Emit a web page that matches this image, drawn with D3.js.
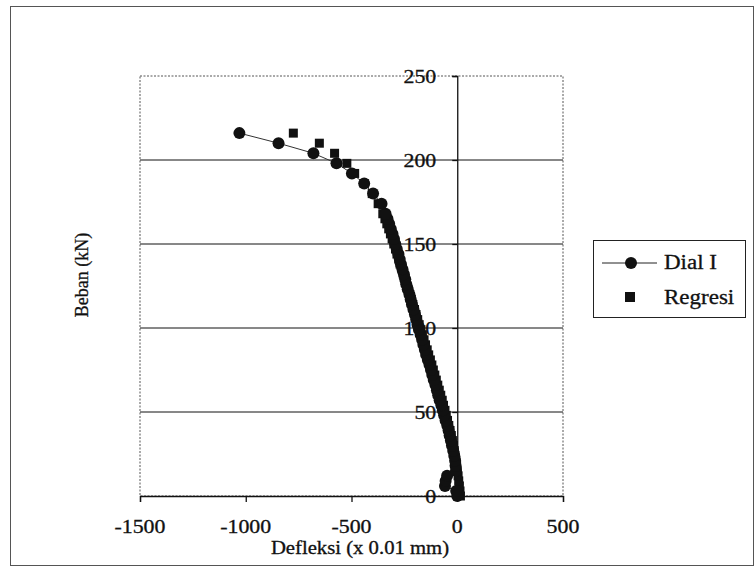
<!DOCTYPE html>
<html>
<head>
<meta charset="utf-8">
<script src="https://cdn.jsdelivr.net/npm/d3@7"></script>
<style>
  body { margin: 0; background: #fff; }
  svg { display: block; }
  text { font-family: "Liberation Serif", "Times New Roman", serif; fill: #111; stroke: #111; stroke-width: 0.3px; }
</style>
</head>
<body>
<div id="container"></div>
<script>
/* CONSTANTS AND GLOBALS */
const width = 755,
  height = 571,
  plot = { left: 140, right: 563, top: 76, bottom: 496 };

// DATA
const beban = [0, 3, 6, 9, 12, 15, 18, 21, 24, 27, 30, 33, 36, 39, 42, 45, 48, 51, 54, 57, 60,
  63, 66, 69, 72, 75, 78, 81, 84, 87, 90, 93, 96, 99, 102, 105, 108, 111, 114, 117, 120, 123,
  126, 129, 132, 135, 138, 141, 144, 147, 150, 153, 156, 159, 162, 165, 168, 174, 180, 186,
  192, 198, 204, 210, 216];
const dialI = [0, -5, -58, -55, -48, -6, -8, -10, -14, -19, -25, -30, -36, -41, -47, -55, -62,
  -68, -75, -83, -90, -96, -103, -111, -118, -124, -131, -139, -147, -153, -160, -166, -173,
  -181, -188, -194, -200, -207, -214, -220, -226, -234, -241, -246, -252, -259, -266, -272,
  -278, -286, -293, -299, -306, -314, -322, -330, -339, -358, -398, -440, -498, -571, -680,
  -845, -1030];
const regresi = [15, 13, 10, 7, 4, 0, -3, -6, -10, -14, -18, -23, -28, -34, -40, -46, -52, -58,
  -65, -71, -78, -85, -92, -99, -106, -113, -120, -127, -135, -142, -150, -157, -165, -172,
  -180, -187, -195, -202, -210, -217, -225, -232, -240, -247, -255, -262, -270, -277, -285,
  -292, -300, -308, -316, -324, -333, -342, -352, -374, -402, -440, -485, -522, -580, -652, -775];
const xTicks = [-1500, -1000, -500, 0, 500];
const yTicks = [0, 50, 100, 150, 200, 250];
const legendLabels = ["Dial I", "Regresi"];

// scanned text is stretched sideways a bit
const stretch = (sel, k) => sel.each(function () {
  const l = this.getComputedTextLength();
  d3.select(this).attr("textLength", l * k).attr("lengthAdjust", "spacingAndGlyphs");
});

const svg = d3.select("#container")
  .append("svg")
  .attr("width", width)
  .attr("height", height)
  .style("background-color", "#fff");

const x = d3.scaleLinear().domain([-1500, 500]).range([plot.left, plot.right]);
const y = d3.scaleLinear().domain([0, 250]).range([plot.bottom, plot.top]);

// outer chart border
svg.append("rect")
  .attr("x", 10.5).attr("y", 6.5)
  .attr("width", 743).attr("height", 559)
  .attr("fill", "none").attr("stroke", "#555").attr("stroke-width", 1);

// plot area border (dotted in the scan)
svg.append("rect")
  .attr("x", plot.left).attr("y", plot.top)
  .attr("width", plot.right - plot.left).attr("height", plot.bottom - plot.top)
  .attr("fill", "none").attr("stroke", "#555").attr("stroke-dasharray", "2,1.5");

// gridlines
svg.selectAll("line.grid")
  .data(yTicks.filter(d => d > 0 && d < 250))
  .enter()
  .append("line")
  .attr("class", "grid")
  .attr("x1", plot.left).attr("x2", plot.right)
  .attr("y1", d => y(d)).attr("y2", d => y(d))
  .attr("stroke", "#111").attr("stroke-width", 1);

// x axis at y = 0
const xAxis = d3.axisBottom(x).tickValues(xTicks).tickSize(6).tickFormat("");
svg.append("g")
  .attr("transform", `translate(0,${y(0)})`)
  .call(xAxis)
  .call(g => g.selectAll("path, line").attr("stroke", "#111").attr("stroke-width", 1.3));

// y axis at x = 0
const yAxis = d3.axisLeft(y).tickValues(yTicks).tickSize(5).tickFormat("");
svg.append("g")
  .attr("transform", `translate(${x(0)},0)`)
  .call(yAxis)
  .call(g => g.selectAll("path, line").attr("stroke", "#111").attr("stroke-width", 1.3));

// tick labels
svg.selectAll("text.ylab")
  .data(yTicks)
  .enter()
  .append("text")
  .attr("class", "ylab")
  .attr("x", x(0) - 21)
  .attr("y", d => y(d) + 7)
  .attr("text-anchor", "end")
  .attr("font-size", 19)
  .text(d => d)
  .call(stretch, 1.15);

svg.selectAll("text.xlab")
  .data(xTicks)
  .enter()
  .append("text")
  .attr("class", "xlab")
  .attr("x", d => x(d))
  .attr("y", 533)
  .attr("text-anchor", "middle")
  .attr("font-size", 19)
  .text(d => d)
  .call(stretch, 1.15);

// axis titles
svg.append("text")
  .attr("x", 360).attr("y", 554)
  .attr("text-anchor", "middle")
  .attr("font-size", 18)
  .text("Defleksi (x 0.01 mm)")
  .call(stretch, 1.15);

svg.append("text")
  .attr("transform", "translate(88,275) rotate(-90)")
  .attr("text-anchor", "middle")
  .attr("font-size", 18)
  .text("Beban (kN)");

// series
const dialPts = beban.map((b, i) => ({ b, d: dialI[i] }));
const regPts = beban.map((b, i) => ({ b, d: regresi[i] }));

svg.append("path")
  .datum(dialPts)
  .attr("fill", "none")
  .attr("stroke", "#333")
  .attr("stroke-width", 1)
  .attr("d", d3.line().x(p => x(p.d)).y(p => y(p.b)));

svg.selectAll("rect.reg")
  .data(regPts)
  .enter()
  .append("rect")
  .attr("class", "reg")
  .attr("x", p => x(p.d) - 4.5)
  .attr("y", p => y(p.b) - 4.5)
  .attr("width", 9).attr("height", 9)
  .attr("fill", "#111");

svg.selectAll("circle.dial")
  .data(dialPts)
  .enter()
  .append("circle")
  .attr("class", "dial")
  .attr("cx", p => x(p.d))
  .attr("cy", p => y(p.b))
  .attr("r", 6)
  .attr("fill", "#111");

// legend
const lg = svg.append("g");
lg.append("rect")
  .attr("x", 593.5).attr("y", 240.5)
  .attr("width", 152).attr("height", 77)
  .attr("fill", "#fff").attr("stroke", "#222");
lg.append("line")
  .attr("x1", 602).attr("x2", 657).attr("y1", 263).attr("y2", 263)
  .attr("stroke", "#222");
lg.append("circle").attr("cx", 631).attr("cy", 263).attr("r", 6).attr("fill", "#111");
lg.append("rect").attr("x", 625).attr("y", 292).attr("width", 10).attr("height", 10).attr("fill", "#111");
lg.selectAll("text")
  .data(legendLabels)
  .enter()
  .append("text")
  .attr("x", 664)
  .attr("y", (d, i) => 269 + i * 35)
  .attr("font-size", 20)
  .text(d => d)
  .call(stretch, 1.15);
</script>
</body>
</html>
